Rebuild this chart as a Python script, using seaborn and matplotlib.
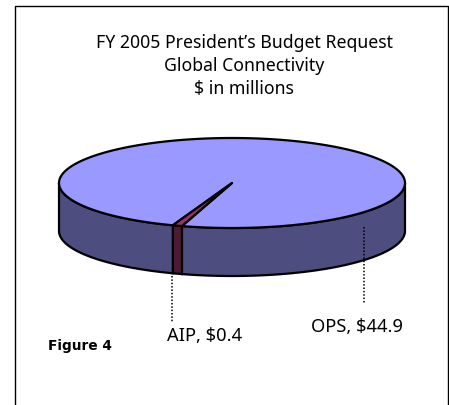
import numpy as np
import matplotlib
matplotlib.use("Agg")
import matplotlib.pyplot as plt
import seaborn as sns

# data
categories = ["OPS", "AIP"]
values = [44.9, 0.4]
title_lines = ["FY 2005 President\u2019s Budget Request", "Global Connectivity", "$ in millions"]
figure_label = "Figure 4"

top_colors = ["#9999FF", "#993366"]
side_colors = ["#4D4D80", "#4D1A33"]

sns.set_theme(style="white")
plt.rcParams["font.family"] = ["Noto Sans", "DejaVu Sans"]

W, H = 449, 406
CX, CY, A, B, DEPTH = 232, 184, 173, 45, 48
START = 110.0  # where the AIP slice begins, degrees, clockwise on screen

fig = plt.figure(figsize=(W / 100, H / 100), dpi=100)
ax = fig.add_axes([0, 0, 1, 1])


def rim(t):
    r = np.radians(t)
    return CX + A * np.cos(r), CY + B * np.sin(r)


# slice angles come from the values (AIP goes backwards from START)
sweep = values[1] / sum(values) * 360
aip_range = (START - sweep, START)
ops_range = (START, START - sweep + 360)

# side wall, only the front half shows
for lo, hi, col in [(0, aip_range[0], side_colors[0]),
                    (aip_range[0], aip_range[1], side_colors[1]),
                    (aip_range[1], 180, side_colors[0])]:
    t = np.linspace(lo, hi, 120)
    x, y = rim(t)
    ax.fill(np.r_[x, x[::-1]], np.r_[y, y[::-1] + DEPTH], fc=col, ec="black", lw=1.6, zorder=2)

# top face
for (lo, hi), col in zip([ops_range, aip_range], top_colors):
    t = np.linspace(lo, hi, 400)
    x, y = rim(t)
    ax.fill(np.r_[CX, x], np.r_[CY, y], fc=col, ec="black", lw=1.6, joinstyle="round", zorder=3)

# leader lines
leaders = [([364, 364], [228, 304]), ([172, 172], [277, 323])]
for lx, ly in leaders:
    sns.lineplot(x=lx, y=ly, ax=ax, estimator=None, sort=False, color="black", lw=1.1,
                 linestyle=(0, (1, 1.2)), zorder=4, legend=False)

# title
for line, yy in zip(title_lines, [43, 66, 89]):
    ax.text(244, yy, line, ha="center", va="center", fontsize=12.7, color="black")

ax.text(311, 332, f"{categories[0]}, ${values[0]}", ha="left", va="baseline", fontsize=13.2, color="black")
ax.text(167, 341, f"{categories[1]}, ${values[1]}", ha="left", va="baseline", fontsize=13.2, color="black")
ax.text(48, 350, figure_label, ha="left", va="baseline", fontsize=9.9, fontweight="bold",
        family="DejaVu Sans", color="black")

# page frame, open at the bottom
sns.lineplot(x=[15, 15, 448, 448], y=[H, 7, 7, H], ax=ax, estimator=None, sort=False,
             color="black", lw=1.0, zorder=1, legend=False)

ax.set_xlim(0, W)
ax.set_ylim(H, 0)
ax.axis("off")
fig.savefig("out.png", dpi=100)
